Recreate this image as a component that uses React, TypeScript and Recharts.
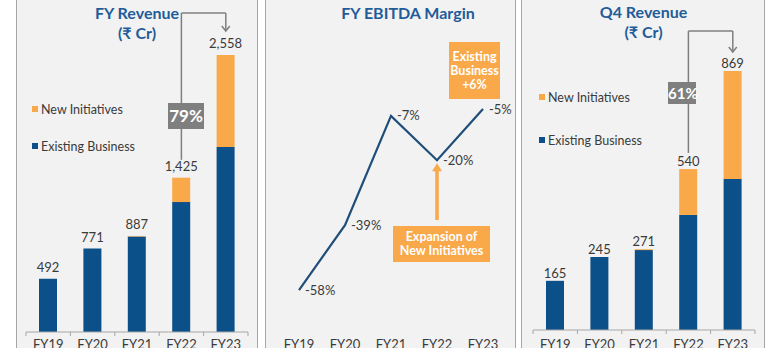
import React from 'react'
import { BarChart, Bar, XAxis, YAxis, LabelList, LineChart, Line, ReferenceLine } from 'recharts'

// values
const years = ['FY19', 'FY20', 'FY21', 'FY22', 'FY23']
const fyExisting = [492, 771, 882, 1200, 1708]
const fyNew = [0, 0, 5, 225, 850]
const fyTotal = [492, 771, 887, 1425, 2558]
const ebitdaMargin = [-58, -39, -7, -20, -5]
const q4Existing = [165, 245, 268, 386, 507]
const q4New = [0, 0, 3, 154, 362]
const q4Total = [165, 245, 271, 540, 869]

const BLUE = '#0b5088'
const ORANGE = '#f9a84a'
const TITLE = '#1f5c99'
const GREY = '#7f7f7f'
const TEXT = '#3a3a3a'
const FONT = 'Lato, "Noto Sans", "DejaVu Sans", sans-serif'

// total label goes on whichever segment is on top of the stack
const stackRows = (ex: number[], nw: number[], tot: number[]) =>
    years.map((year, i) => ({
        year,
        existing: ex[i],
        new: nw[i],
        soloLabel: nw[i] > 0 ? null : tot[i],
        topLabel: nw[i] > 0 ? tot[i] : null,
    }))

const fyData = stackRows(fyExisting, fyNew, fyTotal)
const q4Data = stackRows(q4Existing, q4New, q4Total)
const marginData = years.map((year, i) => ({ year, margin: ebitdaMargin[i] }))

const fmt = (v: any) => (v == null ? '' : Number(v).toLocaleString('en-US'))

// category label plus small boundary ticks on the axis
function BandTick(props: any) {
    const { x, y, payload, index, half, base, lines } = props
    const last = index === years.length - 1
    return (
        <g>
            {lines && <line x1={x - half} x2={x - half} y1={y} y2={y + 4} stroke="#a6a6a6" />}
            {lines && last && <line x1={x + half} x2={x + half} y1={y} y2={y + 4} stroke="#a6a6a6" />}
            <text x={x} y={y + base} textAnchor="middle" fontSize={13} fill={TEXT} fontFamily={FONT}>
                {payload.value}
            </text>
        </g>
    )
}

const plainLine = (color: string, w: number) => (p: any) => (
    <line x1={p.x1} y1={p.y1} x2={p.x2} y2={p.y2} stroke={color} strokeWidth={w} />
)

const arrowDown = (p: any) => (
    <g fill="none" stroke={GREY} strokeWidth={1.5}>
        <line x1={p.x1} y1={p.y1} x2={p.x2} y2={p.y2} />
        <path d={`M${p.x2 - 4},${p.y2 - 5} L${p.x2},${p.y2} L${p.x2 + 4},${p.y2 - 5}`} />
    </g>
)

const arrowUp = (p: any) => {
    const top = Math.min(p.y1, p.y2)
    const bottom = Math.max(p.y1, p.y2)
    return (
        <g>
            <line x1={p.x1} x2={p.x1} y1={top + 6} y2={bottom} stroke={ORANGE} strokeWidth={3.5} />
            <path d={`M${p.x1 - 5},${top + 8} L${p.x1},${top} L${p.x1 + 5},${top + 8} Z`} fill={ORANGE} />
        </g>
    )
}

const MarginLabel = (p: any) => (
    <text x={p.x + 6} y={p.y} dy={4.5} fontSize={13} fill={TEXT} fontFamily={FONT}>
        {`${p.value}%`}
    </text>
)

function Legend({ left, top, gap }: { left: number; top: number; gap: number }) {
    const items = [
        { name: 'New Initiatives', color: ORANGE },
        { name: 'Existing Business', color: BLUE },
    ]
    return (
        <>
            {items.map((it, i) => (
                <div key={it.name} style={{ position: 'absolute', left, top: top + i * gap - 8, height: 16, display: 'flex', alignItems: 'center', fontSize: 12.5, color: TEXT, fontFamily: FONT, whiteSpace: 'nowrap' }}>
                    <span style={{ width: 6, height: 6, background: it.color, marginRight: 3 }} />
                    {it.name}
                </div>
            ))}
        </>
    )
}

const abs = (left: number, top: number, width: number, height: number): React.CSSProperties => ({
    position: 'absolute', left, top, width, height,
})

export default function App() {
    const panel = (left: number, width: number) => (
        <div style={{ ...abs(left, -4, width, 360), boxSizing: 'border-box', border: '1.5px solid #a6a6a6', background: '#f2f2f2' }} />
    )
    const title = (left: number, width: number, top: number, lines: string[]) => (
        <div style={{ ...abs(left, top, width, 40), textAlign: 'center', color: TITLE, fontFamily: FONT, fontWeight: 700, fontSize: 16, lineHeight: '20px' }}>
            {lines.map((l) => <div key={l}>{l}</div>)}
        </div>
    )
    const box = (left: number, top: number, w: number, h: number, bg: string, fs: number, lh: number, lines: string[]) => (
        <div style={{ ...abs(left, top, w, h), background: bg, color: '#fff', fontFamily: FONT, fontWeight: 700, fontSize: fs, lineHeight: `${lh}px`, textAlign: 'center', display: 'flex', flexDirection: 'column', justifyContent: 'center', whiteSpace: 'nowrap' }}>
            {lines.map((l) => <div key={l}>{l}</div>)}
        </div>
    )
    const totalLabel = (key: string, offset: number) => (
        <LabelList dataKey={key} position="top" offset={offset} formatter={fmt} fontSize={13} fill={TEXT} fontFamily={FONT} />
    )

    return (
        <div style={{ position: 'fixed', left: 0, top: 0, width: 768, height: 348, background: '#fff', overflow: 'hidden' }}>
            {panel(16, 242)}
            {panel(265, 251)}
            {panel(521, 244)}

            <div style={abs(0, 0, 260, 348)}>
                <BarChart width={260} height={348} data={fyData} margin={{ top: 55, right: 12, left: 26, bottom: 0 }} barSize={18}>
                    <XAxis dataKey="year" height={16} interval={0} axisLine={{ stroke: '#a6a6a6' }} tickLine={false} tickSize={0} tickMargin={0}
                        tick={(p: any) => <BandTick {...p} half={22.2} base={17} lines />} />
                    <YAxis hide domain={[0, 2558]} allowDataOverflow />
                    <Bar dataKey="existing" stackId="s" fill={BLUE} isAnimationActive={false}>
                        {totalLabel('soloLabel', 7)}
                    </Bar>
                    <Bar dataKey="new" stackId="s" fill={ORANGE} isAnimationActive={false}>
                        {totalLabel('topLabel', 7)}
                    </Bar>
                    <ReferenceLine segment={[{ x: 'FY22', y: 1590 }, { x: 'FY22', y: 2946 }]} ifOverflow="visible" shape={plainLine(GREY, 1.5)} />
                    <ReferenceLine segment={[{ x: 'FY22', y: 2946 }, { x: 'FY23', y: 2946 }]} ifOverflow="visible" shape={plainLine(GREY, 1.5)} />
                    <ReferenceLine segment={[{ x: 'FY23', y: 2946 }, { x: 'FY23', y: 2780 }]} ifOverflow="visible" shape={arrowDown} />
                </BarChart>
            </div>

            <div style={abs(266, 0, 249, 348)}>
                <LineChart width={249} height={348} data={marginData} margin={{ top: 92, right: 32, left: 33, bottom: 0 }}>
                    <XAxis dataKey="year" height={17} interval={0} axisLine={false} tickLine={false} tickSize={0} tickMargin={0}
                        tick={(p: any) => <BandTick {...p} half={23} base={18} lines={false} />} />
                    <YAxis hide domain={[-70, 0]} allowDataOverflow />
                    <Line dataKey="margin" stroke="#1f4e79" strokeWidth={2.2} dot={false} isAnimationActive={false}>
                        <LabelList dataKey="margin" content={MarginLabel} />
                    </Line>
                    <ReferenceLine segment={[{ x: 'FY22', y: -37.5 }, { x: 'FY22', y: -20.9 }]} ifOverflow="visible" shape={arrowUp} />
                </LineChart>
            </div>

            <div style={abs(510, 0, 258, 348)}>
                <BarChart width={258} height={348} data={q4Data} margin={{ top: 71, right: 13, left: 23, bottom: 0 }} barSize={18}>
                    <XAxis dataKey="year" height={18} interval={0} axisLine={{ stroke: '#a6a6a6' }} tickLine={false} tickSize={0} tickMargin={0}
                        tick={(p: any) => <BandTick {...p} half={22.2} base={19} lines />} />
                    <YAxis hide domain={[0, 869]} allowDataOverflow />
                    <Bar dataKey="existing" stackId="s" fill={BLUE} isAnimationActive={false}>
                        {totalLabel('soloLabel', 3)}
                    </Bar>
                    <Bar dataKey="new" stackId="s" fill={ORANGE} isAnimationActive={false}>
                        {totalLabel('topLabel', 3)}
                    </Bar>
                    <ReferenceLine segment={[{ x: 'FY22', y: 594 }, { x: 'FY22', y: 1003 }]} ifOverflow="visible" shape={plainLine(GREY, 1.5)} />
                    <ReferenceLine segment={[{ x: 'FY22', y: 1003 }, { x: 'FY23', y: 1003 }]} ifOverflow="visible" shape={plainLine(GREY, 1.5)} />
                    <ReferenceLine segment={[{ x: 'FY23', y: 1003 }, { x: 'FY23', y: 933 }]} ifOverflow="visible" shape={arrowDown} />
                </BarChart>
            </div>

            {title(16, 242, 3, ['FY Revenue', '(₹ Cr)'])}
            {title(320, 176, 3, ['FY EBITDA Margin'])}
            {title(522, 243, 2, ['Q4 Revenue', '(₹ Cr)'])}

            <Legend left={32} top={109} gap={37} />
            <Legend left={539} top={97} gap={43} />

            {box(168, 103, 36, 26, GREY, 17, 20, ['79%'])}
            {box(668, 82, 28, 22, GREY, 15, 18, ['61%'])}
            {box(449, 42, 51, 57, ORANGE, 12.5, 14, ['Existing', 'Business', '+6%'])}
            {box(393, 226, 97, 36, ORANGE, 12.5, 14, ['Expansion of', 'New Initiatives'])}
        </div>
    )
}
